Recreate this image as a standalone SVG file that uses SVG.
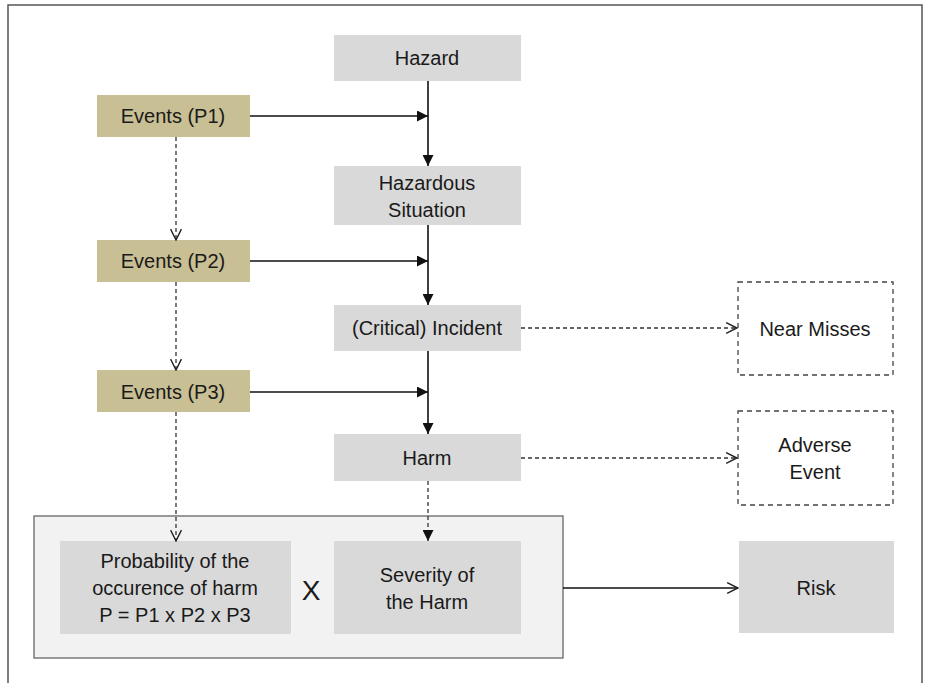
<svg xmlns="http://www.w3.org/2000/svg" width="925" height="683" viewBox="0 0 925 683">
<style>
.g{fill:#d9d9d9}
.t{fill:#c9bf94}
.d{fill:#fff;stroke:#444;stroke-width:1.3;stroke-dasharray:5,4}
.lbl{font-family:"Liberation Sans",Arial,sans-serif;font-size:20px;fill:#1a1a1a;text-anchor:middle}
.s{stroke:#111;stroke-width:1.6;fill:none}
.sd{stroke:#333;stroke-width:1.3;fill:none;stroke-dasharray:4,3}
</style>
<defs>
<marker id="af" viewBox="0 0 10 10" refX="10" refY="5" markerWidth="11" markerHeight="11" markerUnits="userSpaceOnUse" orient="auto"><path d="M0,0 L10,5 L0,10 Z" fill="#111"/></marker>
<marker id="ao" viewBox="0 0 12 12" refX="11" refY="6" markerWidth="13" markerHeight="13" markerUnits="userSpaceOnUse" orient="auto"><path d="M1,1 L11,6 L1,11" fill="none" stroke="#222" stroke-width="1.3"/></marker>
</defs>
<rect x="0" y="0" width="925" height="683" fill="#fff"/>
<rect x="8" y="5" width="914" height="690" fill="none" stroke="#555" stroke-width="1.5"/>
<g id="container"><rect x="34" y="516" width="529" height="142" fill="#f2f2f2" stroke="#666" stroke-width="1.3"/></g>
<g id="hazard"><rect class="g" x="334" y="35" width="187" height="46"/><text class="lbl" x="427" y="65">Hazard</text></g>
<g id="events1"><rect class="t" x="97" y="95" width="153" height="42"/><text class="lbl" x="173" y="123">Events (P1)</text></g>
<g id="hazsit"><rect class="g" x="334" y="166" width="187" height="59"/><text class="lbl" x="427" y="190">Hazardous</text><text class="lbl" x="427" y="217">Situation</text></g>
<g id="events2"><rect class="t" x="97" y="240" width="153" height="42"/><text class="lbl" x="173" y="268">Events (P2)</text></g>
<g id="incident"><rect class="g" x="334" y="305" width="187" height="46"/><text class="lbl" x="427" y="335">(Critical) Incident</text></g>
<g id="events3"><rect class="t" x="97" y="370" width="153" height="42"/><text class="lbl" x="173" y="399">Events (P3)</text></g>
<g id="harm"><rect class="g" x="334" y="434" width="187" height="47"/><text class="lbl" x="427" y="465">Harm</text></g>
<g id="nearmiss"><rect class="d" x="738" y="282" width="155" height="93"/><text class="lbl" x="815" y="336">Near Misses</text></g>
<g id="adverse"><rect class="d" x="738" y="411" width="155" height="94"/><text class="lbl" x="815" y="452">Adverse</text><text class="lbl" x="815" y="479">Event</text></g>
<g id="prob"><rect class="g" x="60" y="541" width="231" height="93"/><text class="lbl" x="175" y="568">Probability of the</text><text class="lbl" x="175" y="595">occurence of harm</text><text class="lbl" x="175" y="622">P = P1 x P2 x P3</text></g>
<g id="times"><text class="lbl" x="311" y="600" style="font-size:28px">X</text></g>
<g id="severity"><rect class="g" x="334" y="541" width="187" height="93"/><text class="lbl" x="427" y="582">Severity of</text><text class="lbl" x="427" y="609">the Harm</text></g>
<g id="risk"><rect class="g" x="739" y="541" width="155" height="92"/><text class="lbl" x="816" y="595">Risk</text></g>
<g id="connectors">
<line class="s" x1="428" y1="81" x2="428" y2="166" marker-end="url(#af)"/>
<line class="s" x1="250" y1="116" x2="428" y2="116" marker-end="url(#af)"/>
<line class="sd" x1="176" y1="137" x2="176" y2="240" marker-end="url(#ao)"/>
<line class="s" x1="428" y1="225" x2="428" y2="305" marker-end="url(#af)"/>
<line class="s" x1="250" y1="261" x2="428" y2="261" marker-end="url(#af)"/>
<line class="sd" x1="176" y1="282" x2="176" y2="370" marker-end="url(#ao)"/>
<line class="s" x1="428" y1="351" x2="428" y2="434" marker-end="url(#af)"/>
<line class="s" x1="250" y1="392" x2="428" y2="392" marker-end="url(#af)"/>
<line class="sd" x1="176" y1="412" x2="176" y2="541" marker-end="url(#ao)"/>
<line class="sd" x1="428" y1="481" x2="428" y2="541" marker-end="url(#af)"/>
<line class="sd" x1="521" y1="328" x2="737" y2="328" stroke-dasharray="6,4" marker-end="url(#ao)"/>
<line class="sd" x1="521" y1="458" x2="737" y2="458" stroke-dasharray="6,4" marker-end="url(#ao)"/>
<line class="s" x1="563" y1="588" x2="738" y2="588" marker-end="url(#ao)"/>
</g>
</svg>
